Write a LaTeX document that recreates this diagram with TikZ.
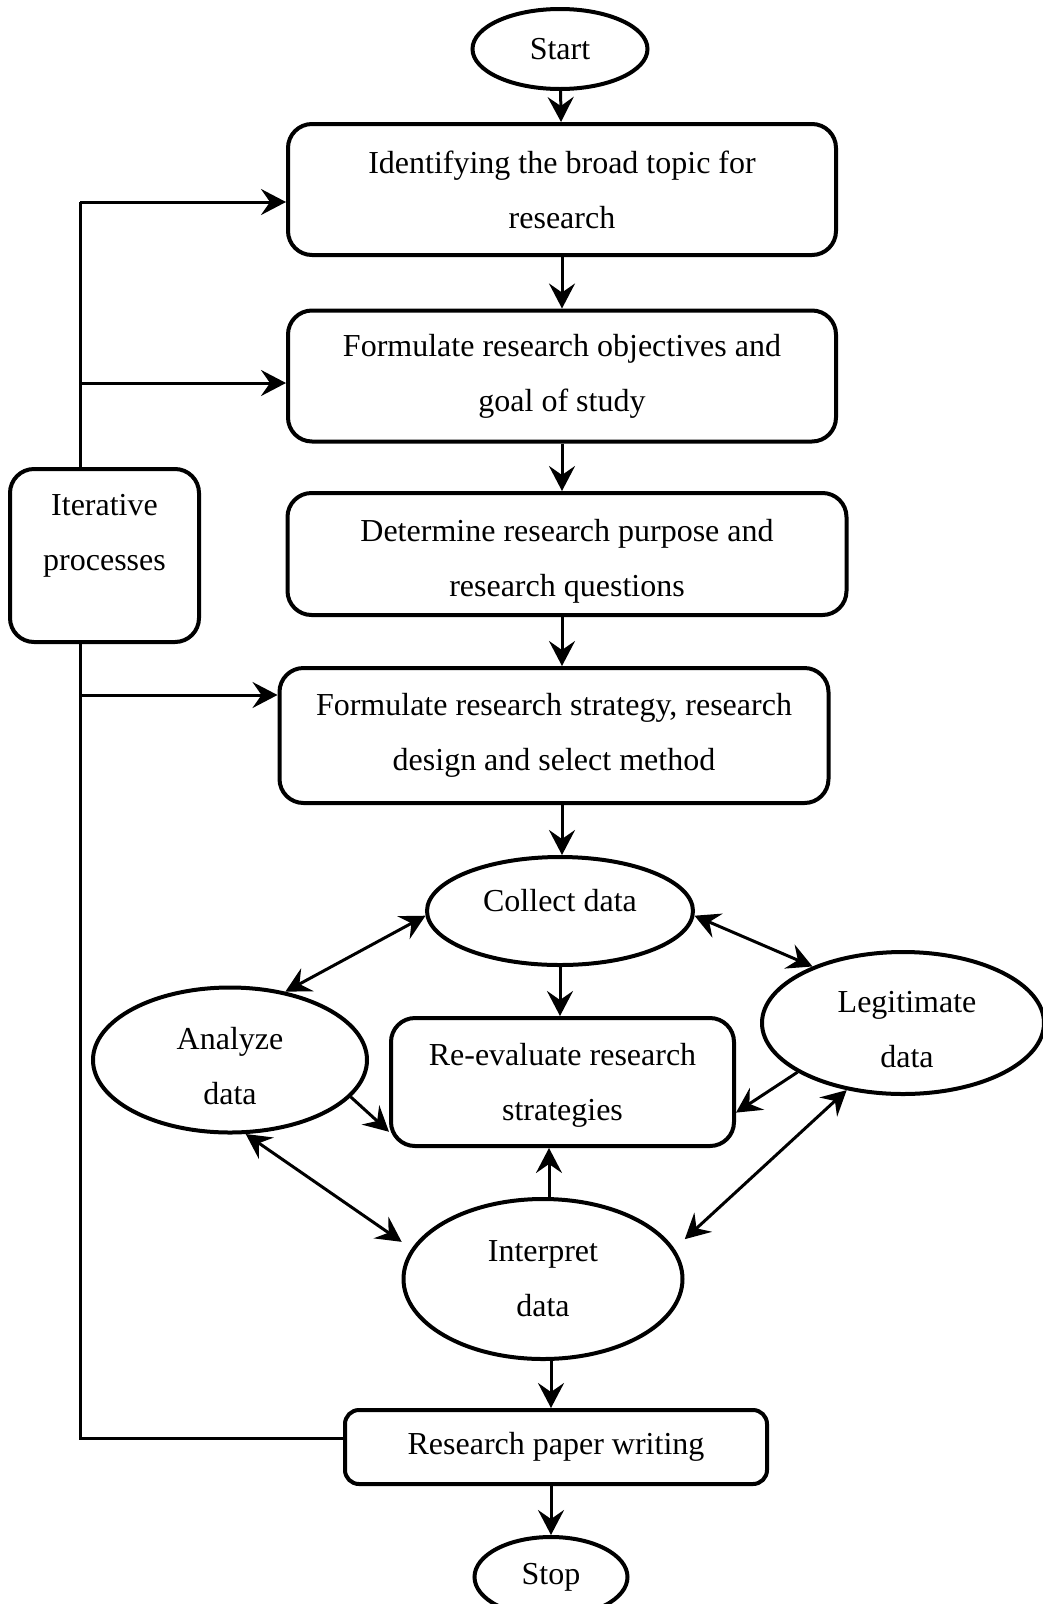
\documentclass[tikz,border=0pt]{standalone}
\usepackage{fontspec}
\setmainfont{Liberation Serif}
\usetikzlibrary{shapes.geometric,arrows.meta}
\begin{document}
\begin{tikzpicture}[x=1pt,y=-1pt,
  every node/.style={font=\fontsize{32}{55}\selectfont},
  stepbox/.style={draw,line width=4pt,rounded corners=24pt,align=center,inner sep=0pt},
  oval/.style={draw,ellipse,line width=4pt,inner sep=0pt,align=center},
  caption/.style={align=center,inner sep=0pt},
  tip/.tip={Stealth[length=25pt,width=26pt,inset=9pt]},
  conn/.style={line width=3pt,-tip},
  biconn/.style={line width=3pt,tip-tip},
  wire/.style={line width=3pt}]

\useasboundingbox (0,0) rectangle (1042,1604);

% main column
\node[oval,minimum width=175pt,minimum height=80pt] (start) at (560,49) {Start};
\node[stepbox,minimum width=548pt,minimum height=131pt] (b1) at (562,189.5)
  {Identifying the broad topic for\\research};
\node[stepbox,minimum width=548pt,minimum height=131pt] (b2) at (562,376)
  {Formulate research objectives and\\goal of study};
\node[stepbox,minimum width=559pt,minimum height=122pt] (b3) at (567,554) {};
\node[caption] (b3text) at (567,561) {Determine research purpose and\\research questions};
\node[stepbox,minimum width=549pt,minimum height=135pt] (b4) at (554,735.5)
  {Formulate research strategy, research\\design and select method};
\coordinate (axis) at (562,0);

% data cycle
\node[oval,minimum width=266pt,minimum height=108pt] (cd) at (560,911) {};
\node[caption] (cdtext) at (560,901) {Collect data};
\node[oval,minimum width=274pt,minimum height=145pt] (ana) at (230,1060) {};
\node[caption] (anatext) at (230,1066) {Analyze\\data};
\node[oval,minimum width=282pt,minimum height=142pt] (lg) at (903,1023) {};
\node[caption] (lgtext) at (907,1030) {Legitimate\\data};
\node[oval,minimum width=279pt,minimum height=160pt] (interp) at (543,1279) {Interpret\\data};
\node[stepbox,minimum width=343pt,minimum height=128pt] (reeval) at (562.5,1082) {};
\node[caption] (reevaltext) at (562.5,1085) {Re-evaluate research\\strategies};
\coordinate (upx) at (549,0);

% closing steps
\node[stepbox,rounded corners=14pt,minimum width=422pt,minimum height=74pt] (writing) at (556,1447)
  {Research paper writing};
\node[oval,minimum width=153pt,minimum height=80pt] (stop) at (551,1577) {Stop};
\coordinate (rail) at (551,0);

% iteration loop on the left
\coordinate (lb) at (80,1438);
\coordinate (lt) at (80,202);
\coordinate (l2) at (80,383);
\coordinate (l4) at (80,695);
\draw[wire] (writing.west |- lb) -- (lb) -- (lt);
\draw[conn] (lt) -- (lt -| b1.west);
\draw[conn] (l2) -- (l2 -| b2.west);
\draw[conn] (l4) -- (l4 -| b4.west);
\node[stepbox,fill=white,minimum width=189pt,minimum height=173pt] (iter) at (104.5,555.5) {};
\node[caption] (itertext) at (104.5,536) {Iterative\\processes};

% main flow arrows
\draw[conn] (start) -- (b1);
\draw[conn] (b1.south -| axis) -- (b2.north -| axis);
\draw[conn] (b2.south -| axis) -- (b3.north -| axis);
\draw[conn] (b3.south -| axis) -- (b4.north -| axis);
\draw[conn] (b4.south -| axis) -- (cd.north -| axis);
\draw[conn] (cd.south) -- (cd.south |- reeval.north);
\draw[biconn] (ana.51) -- (cd.182);
\draw[biconn] (cd.358) -- (lg.148);
\draw[conn] (ana.343) -- (reeval.196);
\draw[conn] (lg.205) -- (reeval.350);
\draw[biconn,shorten >=12pt] (ana.282) -- (interp.167);
\draw[biconn,shorten >=14pt] (lg.230) -- (interp.13);
\draw[conn] (interp.north -| upx) -- (reeval.south -| upx);
\draw[conn] (interp.south -| rail) -- (writing.north -| rail);
\draw[conn] (writing.south -| rail) -- (stop.north);
\end{tikzpicture}
\end{document}
